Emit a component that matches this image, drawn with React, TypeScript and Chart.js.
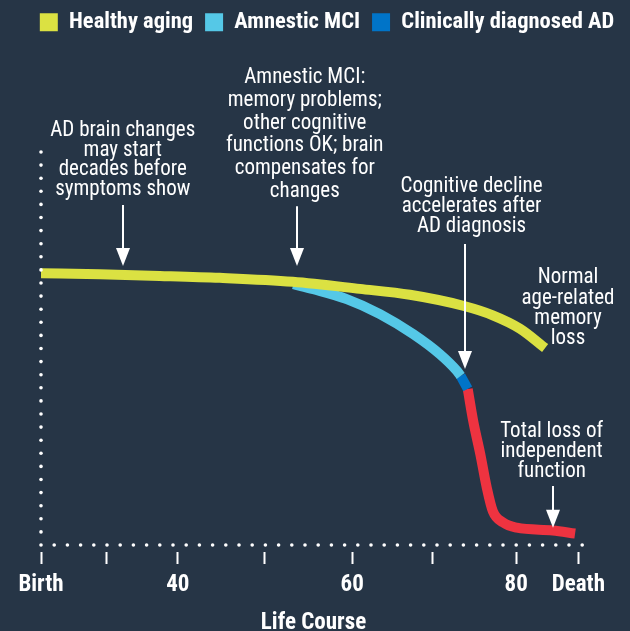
import React, { useEffect, useRef } from "react";
import { Chart, registerables } from "chart.js";

Chart.register(...registerables);

// ---- Data (life-course position 0..100, cognitive function 0..100) ----
const healthyX = [0, 10.8, 21.8, 32.8, 46.2, 58.5, 67.7, 77.8, 82.9, 87.9, 92.5];
const healthyY = [69.0, 68.7, 68.3, 67.8, 66.8, 65.0, 63.5, 60.6, 58.3, 54.9, 50.0];
const mciX = [46.3, 50.0, 56.1, 62.2, 68.3, 73.2, 76.3, 77.0];
const mciY = [66.2, 64.9, 62.4, 58.6, 53.5, 48.4, 44.2, 42.9];
const adX = [77.0, 78.3];
const adY = [42.9, 39.6];
const lateX = [78.3, 79.3, 80.6, 81.8, 82.9, 84.8, 87.3, 93.9, 98.0];
const lateY = [39.6, 31.5, 23.1, 14.5, 8.6, 5.7, 4.4, 3.7, 2.9];

const tickValues = [0, 12.0, 25.1, 41.1, 57.1, 71.9, 87.2, 98.6];
const tickLabels = ["Birth", "", "40", "", "60", "", "80", "Death"];

const seriesNames = ["Healthy aging", "Amnestic MCI", "Clinically diagnosed AD", "Late AD"];
const seriesColors = ["#dbe142", "#55c8e7", "#0074c8", "#ee3340"];

const noteLines = [
  ["AD brain changes", "may start", "decades before", "symptoms show"],
  ["Amnestic MCI:", "memory problems;", "other cognitive", "functions OK; brain", "compensates for", "changes"],
  ["Cognitive decline", "accelerates after", "AD diagnosis"],
  ["Normal", "age-related", "memory", "loss"],
  ["Total loss of", "independent", "function"],
];
const noteX = [15.0, 48.4, 79.0, 96.7, 93.7];
const noteY = [105.1, 118.6, 91.1, 67.8, 28.9];
const noteLineHeight = [19.5, 22.7, 20, 20.3, 20];

const arrowX = [15.0, 47.0, 77.8, 93.9];
const arrowFrom = [86.3, 86.0, 76.4, 15.0];
const arrowTo = [70.8, 70.8, 44.7, 4.4];

const FONT = "'Roboto Condensed', 'Open Sans', sans-serif";
const BG = "#263546";

const toPts = (xs: number[], ys: number[]) => xs.map((x, i) => ({ x, y: ys[i] }));

const bgPlugin = {
  id: "bg",
  beforeDraw(chart: any) {
    const { ctx, width, height } = chart;
    ctx.save();
    ctx.fillStyle = BG;
    ctx.fillRect(0, 0, width, height);
    ctx.restore();
  },
};

const dotsPlugin = {
  id: "dots",
  afterDatasetsDraw(chart: any) {
    const { ctx, chartArea } = chart;
    const { left, right, top, bottom } = chartArea;
    ctx.save();
    ctx.fillStyle = "#ffffff";
    const step = 13.2;
    for (let x = left; x <= right + 0.5; x += step) {
      ctx.beginPath();
      ctx.arc(x, bottom, 1.8, 0, Math.PI * 2);
      ctx.fill();
    }
    for (let y = bottom - 13.1; y >= top - 0.5; y -= 13.1) {
      ctx.beginPath();
      ctx.arc(left, y, 1.8, 0, Math.PI * 2);
      ctx.fill();
    }
    ctx.restore();
  },
};

const notesPlugin = {
  id: "notes",
  afterDraw(chart: any) {
    const { ctx } = chart;
    const xs = chart.scales.x;
    const ys = chart.scales.y;
    ctx.save();
    ctx.fillStyle = "#ffffff";
    ctx.font = `22px ${FONT}`;
    ctx.textAlign = "center";
    ctx.textBaseline = "middle";
    noteLines.forEach((lines, k) => {
      const px = xs.getPixelForValue(noteX[k]);
      const py = ys.getPixelForValue(noteY[k]);
      lines.forEach((l, i) => {
        ctx.save();
        ctx.translate(px, py + i * noteLineHeight[k]);
        ctx.scale(0.955, 1);
        ctx.fillText(l, 0, 0);
        ctx.restore();
      });
    });
    ctx.strokeStyle = "#ffffff";
    ctx.lineWidth = 2;
    arrowX.forEach((ax, k) => {
      const px = Math.round(xs.getPixelForValue(ax));
      const top = ys.getPixelForValue(arrowFrom[k]);
      const tip = ys.getPixelForValue(arrowTo[k]);
      const headH = 18;
      const headW = 7;
      ctx.beginPath();
      ctx.moveTo(px, top);
      ctx.lineTo(px, tip - headH + 2);
      ctx.stroke();
      ctx.beginPath();
      ctx.moveTo(px - headW, tip - headH);
      ctx.lineTo(px + headW, tip - headH);
      ctx.lineTo(px, tip);
      ctx.closePath();
      ctx.fill();
    });
    ctx.restore();
  },
};

export default function App() {
  const ref = useRef<HTMLCanvasElement | null>(null);

  useEffect(() => {
    if (!ref.current) return;
    const mk = (i: number, xs: number[], ys: number[]) => ({
      label: seriesNames[i],
      data: toPts(xs, ys),
      borderColor: seriesColors[i],
      backgroundColor: seriesColors[i],
      borderWidth: 10,
      borderCapStyle: "butt",
      pointRadius: 0,
      fill: false,
      cubicInterpolationMode: "monotone",
    });
    const chart = new Chart(ref.current, {
      type: "line",
      data: {
        datasets: [
          mk(0, healthyX, healthyY),
          mk(1, mciX, mciY),
          mk(2, adX, adY),
          mk(3, lateX, lateY),
        ] as any,
      },
      options: {
        animation: false,
        responsive: false,
        events: [],
        layout: { padding: { left: 24, right: 0, top: -1, bottom: 0 } },
        plugins: {
          tooltip: { enabled: false },
          legend: {
            position: "top",
            labels: {
              color: "#ffffff",
              font: { family: FONT, size: 22.5, weight: "bold" },
              boxWidth: 18,
              boxHeight: 18,
              padding: 12,
              generateLabels: (c: any) =>
                c.data.datasets.slice(0, 3).map((d: any, i: number) => ({
                  text: d.label,
                  fillStyle: d.borderColor,
                  strokeStyle: d.borderColor,
                  lineWidth: 0,
                  hidden: false,
                  datasetIndex: i,
                  fontColor: "#ffffff",
                })),
            },
          },
        },
        scales: {
          x: {
            type: "linear",
            position: "bottom",
            min: 0,
            max: 100,
            afterBuildTicks: (s: any) => {
              s.ticks = tickValues.map((v) => ({ value: v }));
            },
            ticks: {
              color: "#ffffff",
              font: { family: FONT, size: 23, weight: "bold" },
              padding: 6.5,
              autoSkip: false,
              maxRotation: 0,
              callback: (_v: any, i: number) => tickLabels[i],
            },
            grid: {
              display: true,
              drawOnChartArea: false,
              drawTicks: true,
              tickLength: 20,
              tickWidth: 2,
              tickColor: "#ffffff",
              tickBorderDash: [0, 7, 12, 100],
            },
            border: { display: false },
            title: {
              display: true,
              text: "Life Course",
              color: "#ffffff",
              font: { family: FONT, size: 23, weight: "bold" },
              padding: { top: 3.8, bottom: -6 },
            },
          },
          xTop: {
            type: "linear",
            position: "top",
            display: true,
            ticks: { display: false },
            grid: { display: false },
            border: { display: false },
            afterFit: (s: any) => {
              s.height = 107.5;
            },
          },
          y: {
            type: "linear",
            position: "left",
            min: 0,
            max: 100,
            display: true,
            ticks: { display: false },
            grid: { display: false },
            border: { display: false },
            afterFit: (s: any) => {
              s.width = 17;
            },
          },
          yRight: {
            type: "linear",
            position: "right",
            display: true,
            ticks: { display: false },
            grid: { display: false },
            border: { display: false },
            afterFit: (s: any) => {
              s.width = 44;
            },
          },
        },
      } as any,
      plugins: [bgPlugin, dotsPlugin, notesPlugin],
    });
    return () => chart.destroy();
  }, []);

  return (
    <div style={{ position: "fixed", left: 0, top: 0, width: 630, height: 631, background: BG, overflow: "hidden" }}>
      <canvas ref={ref} width={630} height={631} style={{ display: "block", width: 630, height: 631 }} />
    </div>
  );
}
